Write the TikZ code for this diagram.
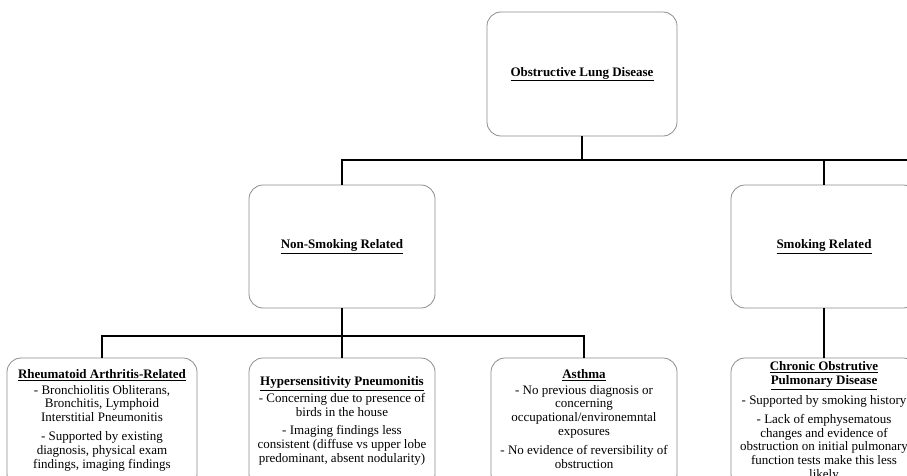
\documentclass[tikz,border=0pt]{standalone}
\usepackage{fontspec}
\setmainfont{Liberation Serif}
\usepackage{tikz}
\usetikzlibrary{positioning}
\usepackage{xcolor}
\definecolor{boxgray}{HTML}{8C8C8C}

\tikzset{
    box/.style={draw=boxgray, line width=0.8pt, rounded corners=14pt, minimum width=186pt, minimum height=123pt, inner sep=0pt},
    leaftext/.style={align=center, inner sep=0pt, font=\fontsize{13}{13.8}\selectfont},
    headtext/.style={font=\fontsize{13}{13.8}\selectfont\bfseries},
    link/.style={line width=1.4pt, black}
}

\begin{document}
\begin{tikzpicture}[x=1pt, y=1pt]
    % Fix the frame
    \useasboundingbox (0,0) rectangle (907,475);
    \clip (0,0) rectangle (907,475);

    % Top level
    \node[box, minimum width=190pt, minimum height=124pt] (top) at (582,401) {};
    \node[headtext] (toptext) at (top) {\underline{Obstructive Lung Disease}};

    % Second level
    \node[box] (nonsmk) at (342,228.5) {};
    \node[headtext] (nonsmktext) at (nonsmk) {\underline{Non-Smoking Related}};
    \node[box] (smk) at (824,228.5) {};
    \node[headtext] (smktext) at (smk) {\underline{Smoking Related}};

    % Third level
    \node[box, minimum width=190pt, minimum height=130pt] (ra) at (102,52) {};
    \node[box, minimum height=130pt] (hp) at (342,52) {};
    \node[box, minimum height=130pt] (asthma) at (584,52) {};
    \node[box, minimum height=130pt] (copd) at (824,52) {};

    \node[leaftext, below=12pt of ra.north] (ratext) {%
        \textbf{\underline{Rheumatoid Arthritis-Related}}\\[1.5pt]
        - Bronchiolitis Obliterans,\\
        Bronchitis, Lymphoid\\
        Interstitial Pneumonitis\\[5pt]
        - Supported by existing\\
        diagnosis, physical exam\\
        findings, imaging findings};
    \node[leaftext, below=19pt of hp.north] (hptext) {%
        \textbf{\underline{Hypersensitivity Pneumonitis}}\\[1.5pt]
        - Concerning due to presence of\\
        birds in the house\\[5pt]
        - Imaging findings less\\
        consistent (diffuse vs upper lobe\\
        predominant, absent nodularity)};
    \node[leaftext, below=12pt of asthma.north] (asthmatext) {%
        \textbf{\underline{Asthma}}\\[1.5pt]
        - No previous diagnosis or\\
        concerning\\
        occupational/environemntal\\
        exposures\\[5pt]
        - No evidence of reversibility of\\
        obstruction};
    \node[leaftext, below=4pt of copd.north] (copdtext) {%
        \textbf{\underline{Chronic Obstrutive}}\\
        \textbf{\underline{Pulmonary Disease}}\\[5pt]
        - Supported by smoking history\\[5pt]
        - Lack of emphysematous\\
        changes and evidence of\\
        obstruction on initial pulmonary\\
        function tests make this less\\
        likely};

    % Connectors
    \coordinate (edge1) at (910,315);
    \coordinate (j2) at (342,139);
    \draw[link] (top.south) -- (top.south |- edge1);
    \draw[link] (nonsmk.north) |- (edge1);
    \draw[link] (smk.north) -- (smk.north |- edge1);
    \draw[link] (nonsmk.south) -- (j2);
    \draw[link] (ra.north) |- (j2);
    \draw[link] (hp.north) -- (j2);
    \draw[link] (asthma.north) |- (j2);
    \draw[link] (smk.south) -- (copd.north);

\end{tikzpicture}
\end{document}
